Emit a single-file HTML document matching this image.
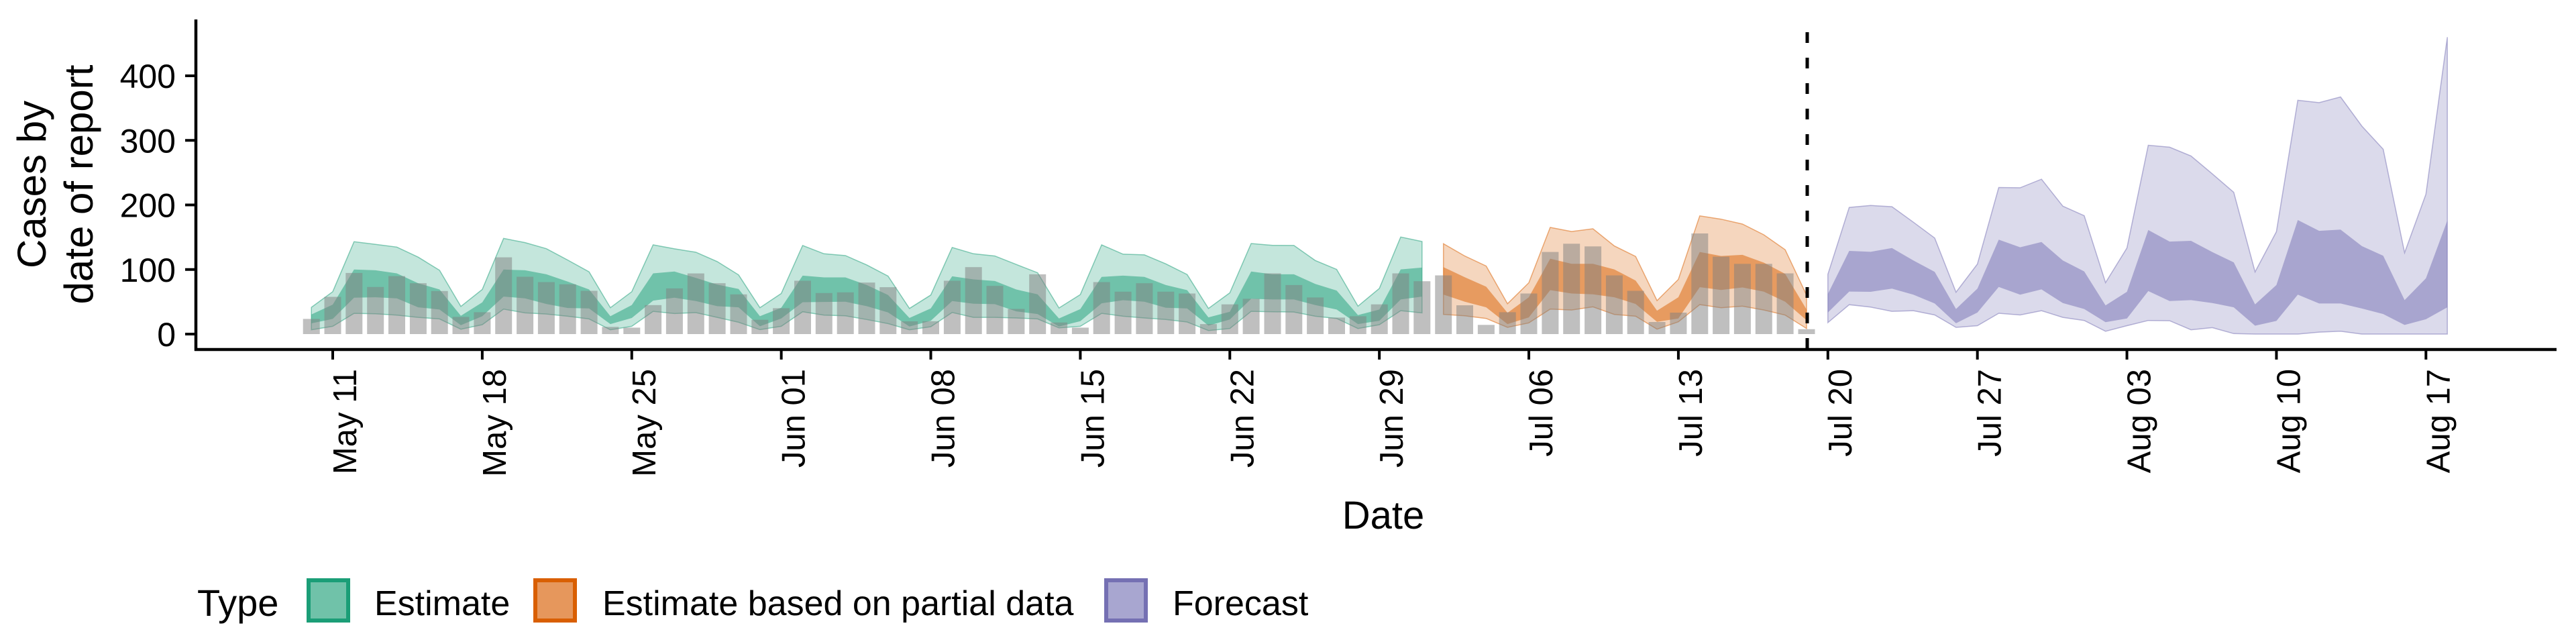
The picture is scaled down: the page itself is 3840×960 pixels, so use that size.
<!DOCTYPE html>
<html><head><meta charset="utf-8"><style>
html,body{margin:0;padding:0;background:#fff;}
svg{display:block;font-family:"Liberation Sans",Arial,sans-serif;}
</style></head><body>
<svg id="chart" width="3840" height="960" viewBox="0 0 3840 960">
  <g id="bands"></g>
  <g id="bars"></g>
  <g id="axes"></g>
  <line x1="2694" y1="48" x2="2694" y2="521" stroke="#000" stroke-width="5" stroke-dasharray="16,22"/>
  <g transform="translate(52,275) rotate(-90)">
    <text x="0" y="0" text-anchor="middle" font-size="60" dominant-baseline="middle">Cases by</text>
    <text x="0" y="70" text-anchor="middle" font-size="60" dominant-baseline="middle">date of report</text>
  </g>
  <text x="2062" y="788" text-anchor="middle" font-size="58">Date</text>
  <g>
    <text x="294" y="918" font-size="56">Type</text>
    <g>
      <rect x="460" y="865" width="59" height="60" fill="#70c2a9" stroke="#1b9e77" stroke-width="6"/>
      <text x="558" y="917" font-size="52">Estimate</text>
    </g>
    <g>
      <rect x="798" y="865" width="59" height="60" fill="#e6975c" stroke="#d95f02" stroke-width="6"/>
      <text x="898" y="917" font-size="52">Estimate based on partial data</text>
    </g>
    <g>
      <rect x="1649" y="865" width="59" height="60" fill="#a8a6d0" stroke="#7570b3" stroke-width="6"/>
      <text x="1748" y="917" font-size="52">Forecast</text>
    </g>
  </g>
</svg>
<script>
// day offsets relative to May 11
const barStart = -1;
const barValues = [23.5,57.7,94.7,72.9,89.8,78.8,66.7,26.6,33.9,118.9,88.8,80.5,77.1,67.0,11.1,10.0,44.9,70.8,93.9,78.8,61.5,22.1,
 40.1,82.6,63.6,64.6,79.8,72.6,19.7,20.0,82.6,103.7,74.6,39.0,92.6,18.0,10.0,80.5,65.7,78.8,65.7,62.9,15.5,
 46.0,54.6,94.0,76.0,56.7,25.6,27.6,46.0,94.0,81.9,
 90.9,44.6,14.2,33.9,62.9,127.2,139.9,135.8,90.9,67.0,18.7,33.2,155.8,119.9,108.8,108.8,94.0,7.6];

const estStart = -1;
const estOuterHi = [41.5,65.7,143.1,138.9,134.8,119.2,98.8,42.8,69.1,148.2,141.7,132.3,114.7,96.4,40.8,65.7,138.2,132.0,126.8,112.3,91.6,40.8,
 62.9,137.2,124.4,121.6,107.1,89.8,39.7,60.5,134.1,124.4,120.9,107.8,95.0,40.4,61.2,138.2,123.7,122.7,108.8,92.3,39.7,
 63.9,140.3,137.5,137.2,114.0,100.2,43.2,70.8,150.3,143.4];
const estInnerHi = [30.4,45.6,99.9,98.8,94.0,78.8,69.1,28.3,49.1,99.9,98.8,92.6,81.2,69.1,27.6,44.9,94.0,96.8,87.1,76.7,69.8,27.6,
 40.8,90.5,87.8,87.8,76.0,60.5,24.9,39.7,89.5,84.7,82.2,69.1,61.5,24.2,38.7,88.5,90.5,88.5,76.0,68.1,25.9,
 34.6,96.8,92.6,92.6,77.7,67.4,29.4,38.0,100.2,103.0];
const estInnerLo = [16.6,23.5,56.3,57.0,55.3,41.5,38.0,13.8,27.6,58.1,55.3,46.6,40.4,39.7,15.5,24.9,51.8,56.3,51.1,43.2,41.5,12.1,
 24.2,49.4,49.8,50.1,43.2,33.5,11.7,20.7,51.1,47.0,46.3,35.2,31.1,11.7,20.0,47.7,52.5,50.1,40.8,39.7,13.1,
 22.5,54.6,53.6,53.6,44.9,38.0,15.5,20.7,53.6,58.1];
const estOuterLo = [6.6,12.1,32.1,31.4,29.4,25.9,23.5,7.6,14.5,38.7,32.8,31.1,27.6,23.5,6.6,12.1,35.2,31.8,33.2,25.9,18.3,6.9,
 12.1,34.6,29.4,28.3,22.5,16.2,6.6,11.4,33.5,25.9,25.9,24.9,23.5,9.7,12.1,32.1,27.6,24.9,22.5,18.7,5.5,
 8.6,35.2,34.6,34.2,27.6,24.2,8.6,14.5,36.3,32.8];

const partStart = 52;
const partOuterHi = [139.9,120.9,105.4,47.0,79.5,165.2,158.9,163.1,136.5,120.2,51.8,84.7,183.1,178.0,170.4,153.8,130.6,60.5];
const partInnerHi = [103.7,88.1,73.3,32.8,57.0,116.8,108.8,108.8,100.2,82.9,36.3,57.0,127.2,120.9,122.7,110.6,93.3,38.0];
const partInnerLo = [61.2,50.1,41.5,15.5,25.9,68.1,62.9,61.5,57.0,46.6,19.0,24.2,72.6,68.4,72.2,65.7,50.1,21.4];
const partOuterLo = [30.4,28.3,24.2,10.4,17.3,38.7,37.3,42.2,30.4,27.6,7.6,19.0,45.6,40.8,43.2,37.3,29.4,8.6];

const fcStart = 70;
const fcOuterHi = [92.6,196.2,199.2,197.3,173.3,148.8,64.8,108.5,227.0,226.6,239.9,198.1,183.3,79.6,133.3,292.5,289.5,275.8,248.1,219.5,96.3,158.5,362.1,358.4,367.3,322.1,286.2,125.9,216.6,459.8];
const fcInnerHi = [62.2,128.8,127.4,133.3,114.0,96.3,38.9,70.3,146.2,134.4,142.5,114.0,97.0,44.4,65.5,161.1,143.3,144.4,127.0,111.1,45.9,75.9,176.6,159.9,161.8,136.2,121.4,52.6,86.3,175.9];
const fcInnerLo = [33.3,65.9,65.5,70.3,61.1,47.4,16.7,33.3,72.9,61.1,69.2,48.1,38.9,18.5,24.1,66.6,51.1,52.6,48.1,41.5,13.0,20.4,61.1,47.4,47.4,39.6,31.1,14.1,23.0,41.5];
const fcOuterLo = [17.8,45.5,41.8,35.2,36.3,29.6,10.4,13.0,32.2,29.6,36.3,25.9,21.1,4.4,13.0,21.1,20.7,6.7,10.0,0.7,0,0,0,3.0,4.4,0,0,0,0,0];

const yTicks = [0,100,200,300,400];
const xTickLabels = ["May 11","May 18","May 25","Jun 01","Jun 08","Jun 15","Jun 22","Jun 29","Jul 06","Jul 13","Jul 20","Jul 27","Aug 03","Aug 10","Aug 17"];

const NS = "http://www.w3.org/2000/svg";
function xs(d){ return 496 + 31.84*d; }
function ys(v){ return 498 - 0.9625*v; }
function mk(tag, attrs, parent){
  const e = document.createElementNS(NS, tag);
  for (const k in attrs) e.setAttribute(k, attrs[k]);
  parent.appendChild(e); return e;
}
const bandsG = document.getElementById('bands');
const barsG = document.getElementById('bars');
const axesG = document.getElementById('axes');

function band(start, hi, lo, fill, opacity, stroke, name){
  const pts = [];
  for (let i=0;i<hi.length;i++) pts.push(xs(start+i).toFixed(1)+','+ys(hi[i]).toFixed(1));
  for (let i=lo.length-1;i>=0;i--) pts.push(xs(start+i).toFixed(1)+','+ys(lo[i]).toFixed(1));
  const p = mk('polygon', {points: pts.join(' '), fill: fill, 'fill-opacity': opacity,
    stroke: stroke || 'none', 'stroke-width': stroke ? 1.5 : 0, 'stroke-opacity': 0.5}, bandsG);
  
  
}
band(estStart, estOuterHi, estOuterLo, '#1b9e77', 0.26, '#1b9e77', 'estimate-outer-band');
band(estStart, estInnerHi, estInnerLo, '#1b9e77', 0.5, null, 'estimate-inner-band');
band(partStart, partOuterHi, partOuterLo, '#d95f02', 0.26, '#d95f02', 'partial-outer-band');
band(partStart, partInnerHi, partInnerLo, '#d95f02', 0.5, null, 'partial-inner-band');
band(fcStart, fcOuterHi, fcOuterLo, '#7570b3', 0.26, '#7570b3', 'forecast-outer-band');
band(fcStart, fcInnerHi, fcInnerLo, '#7570b3', 0.5, null, 'forecast-inner-band');

for (let i=0;i<barValues.length;i++){
  const d = barStart + i;
  const r = mk('rect', {x: (xs(d)-12.5).toFixed(1), y: ys(barValues[i]).toFixed(1), width: 25,
    height: (ys(0)-ys(barValues[i])).toFixed(1), fill: '#808080', 'fill-opacity': 0.5}, barsG);
  
  
}

// axes
const yl = mk('line', {x1: 292, y1: 29, x2: 292, y2: 523, stroke: '#000', 'stroke-width': 4.5}, axesG);


const xl = mk('line', {x1: 290, y1: 521, x2: 3811, y2: 521, stroke: '#000', 'stroke-width': 4.5}, axesG);



yTicks.forEach(v=>{
  const y = ys(v);
  const t = mk('line', {x1: 276, y1: y, x2: 292, y2: y, stroke: '#000', 'stroke-width': 4}, axesG);
  
  
  const l = mk('text', {x: 262, y: y+18, 'text-anchor': 'end', 'font-size': 50}, axesG);
  l.textContent = String(v);
  
  
});
xTickLabels.forEach((lab,i)=>{
  const x = xs(i*7);
  const t = mk('line', {x1: x, y1: 521, x2: x, y2: 536, stroke: '#000', 'stroke-width': 4}, axesG);
  
  
  const l = mk('text', {x: 0, y: 0, 'text-anchor': 'end', 'font-size': 49,
    transform: 'translate(' + (x+35).toFixed(1) + ',550) rotate(-90)'}, axesG);
  l.textContent = lab;
  
  
});
</script>
</body></html>
